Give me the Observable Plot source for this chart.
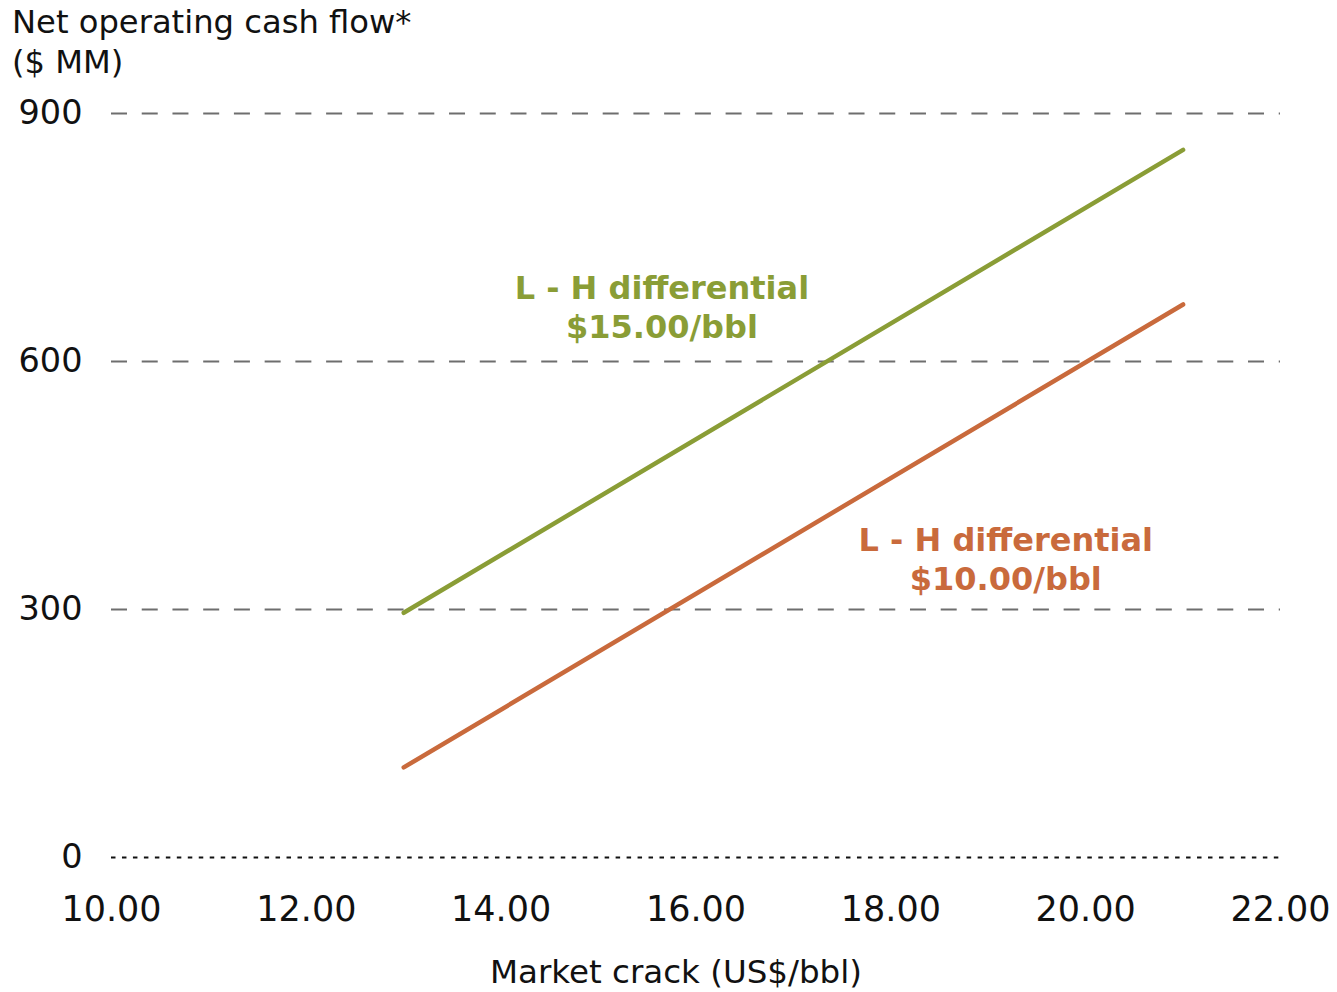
<!DOCTYPE html>
<html>
<head>
<meta charset="utf-8">
<script src="https://cdn.jsdelivr.net/npm/d3@7"></script>
<script src="https://cdn.jsdelivr.net/npm/@observablehq/plot@0.6"></script>
<style>
  html, body { margin: 0; padding: 0; background: #fff; }
  body { width: 1337px; height: 992px; overflow: hidden; font-family: "DejaVu Sans", Verdana, sans-serif; }
  #title { height: 84px; padding: 2px 0 0 12px; font-size: 32.2px; line-height: 40px; color: #111; box-sizing: border-box; }
  #chart svg { display: block; }
</style>
</head>
<body>
<div id="title">Net operating cash flow*<br>($ MM)</div>
<div id="chart"></div>
<script>
// Market crack (US$/bbl) at each end of the sensitivity range
const crack = [13, 21];
// Net operating cash flow ($ MM) for each light–heavy differential
const cashFlow15 = [296, 856];
const cashFlow10 = [109, 669];

const xTicks = [10, 12, 14, 16, 18, 20, 22];
const yTicks = [0, 300, 600, 900];
const gridLevels = [300, 600, 900];

const series = [
  {name: "L - H differential $15.00/bbl", values: cashFlow15, color: "#8A9D36"},
  {name: "L - H differential $10.00/bbl", values: cashFlow10, color: "#C96A3C"}
];

const rows = series.flatMap(s => crack.map((c, i) => ({series: s.name, crack: c, flow: s.values[i]})));

// Label positions in data space
const labels = [
  {x: 15.65, y: 688, text: "L - H differential", color: "#8A9D36"},
  {x: 15.65, y: 641, text: "$15.00/bbl", color: "#8A9D36"},
  {x: 19.18, y: 383, text: "L - H differential", color: "#C96A3C"},
  {x: 19.18, y: 336, text: "$10.00/bbl", color: "#C96A3C"}
];

const chart = Plot.plot({
  width: 1337,
  height: 908,
  marginLeft: 111,
  marginRight: 57,
  marginTop: 29,
  marginBottom: 135,
  style: {fontFamily: "DejaVu Sans, Verdana, sans-serif", background: "#fff"},
  x: {domain: [10, 22]},
  y: {domain: [0, 900]},
  marks: [
    Plot.ruleY(gridLevels, {stroke: "#6e6e6e", strokeWidth: 1.8, strokeDasharray: "16,14.73"}),
    Plot.ruleY([0], {stroke: "#111", strokeWidth: 2, strokeDasharray: "4.5,6.47"}),
    Plot.axisY({ticks: yTicks, tickSize: 0, tickPadding: 29, fontSize: 33.5, label: null, color: "#111"}),
    Plot.axisX({ticks: xTicks, tickSize: 0, tickPadding: 39, fontSize: 35, label: null,
      tickFormat: d => d.toFixed(2), color: "#111"}),
    Plot.text(["Market crack (US$/bbl)"], {frameAnchor: "bottom", dy: 125, dx: -20, fontSize: 32.5, fill: "#111"}),
    Plot.line(rows, {x: "crack", y: "flow", z: "series",
      stroke: d => series.find(s => s.name === d.series).color,
      strokeWidth: 4.5, strokeLinecap: "round"}),
    Plot.text(labels, {x: "x", y: "y", text: "text", fill: "color", fontSize: 32, fontWeight: "bold"})
  ]
});

document.getElementById("chart").appendChild(chart);
</script>
</body>
</html>
